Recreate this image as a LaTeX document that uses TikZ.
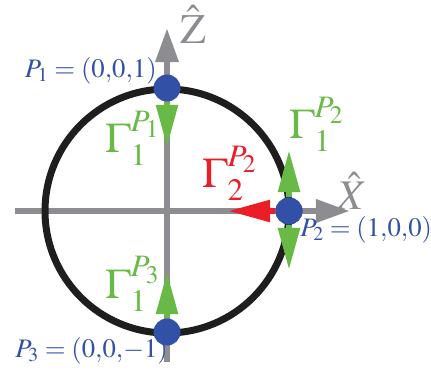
\documentclass[tikz,border=0pt]{standalone}
\usepackage{mathptmx}
\usetikzlibrary{arrows.meta}

\definecolor{axisgray}{RGB}{140,140,145}
\definecolor{ptblue}{RGB}{50,80,165}
\definecolor{gengreen}{RGB}{105,185,70}
\definecolor{genred}{RGB}{235,30,40}
\definecolor{ringblack}{RGB}{30,30,30}

\begin{document}
\begin{tikzpicture}[x=0.025cm,y=-0.025cm,line join=round]
\tikzset{
    axis/.style={draw=axisgray, line width=0.16cm, -{Triangle[length=0.85cm,width=0.55cm]}},
    ring/.style={draw=ringblack, line width=0.175cm},
    dot/.style={circle, fill=ptblue, minimum size=0.675cm, inner sep=0pt},
    gen/.style={line width=0.15cm, -{Triangle[length=1.05cm,width=0.52cm]}},
    ptlabel/.style={text=ptblue, inner sep=0pt, font=\fontsize{19}{21}\selectfont},
    genlabel/.style={inner sep=0pt, font=\fontsize{30}{34}\selectfont},
    axlabel/.style={text=axisgray, inner sep=0pt, font=\fontsize{30}{34}\selectfont},
}
\useasboundingbox (0,0) rectangle (431,369);
% axes
\coordinate (c) at (167,211);
\coordinate (xl) at (15,211);
\coordinate (xr) at (350,211);
\coordinate (zb) at (167,362);
\coordinate (zt) at (167,28);
\draw[axis] (xl) -- (xr);
\draw[axis] (zb) -- (zt);
\node[axlabel, anchor=base west] (zlab) at (180,43) {$\hat{\mathrm{Z}}$};
\node[axlabel, anchor=base west] (xlab) at (337,209) {$\hat{X}$};
% unit circle
\draw[ring] (c) circle (122);
% points
\node[dot] (p1) at (167,88) {};
\node[dot] (p2) at (289,211) {};
\node[dot] (p3) at (167,332) {};
\node[ptlabel, anchor=base east] (p1lab) at (157,77) {$P_1 = (0{,}0{,}1)$};
\node[ptlabel, anchor=base west] (p2lab) at (300,236) {$P_2 = (1{,}0{,}0)$};
\node[ptlabel, anchor=base west] (p3lab) at (15,357) {$P_3 = (0{,}0{,}{-1})$};
% generators
\coordinate (g1) at (167,147);
\coordinate (g2u) at (289,150);
\coordinate (g2d) at (289,270);
\coordinate (g3) at (167,272);
\coordinate (r2) at (228,211);
\draw[gen, draw=gengreen, fill=gengreen] (p1) -- (g1);
\draw[gen, draw=gengreen, fill=gengreen] (p2) -- (g2u);
\draw[gen, draw=gengreen, fill=gengreen] (p2) -- (g2d);
\draw[gen, draw=gengreen, fill=gengreen] (p3) -- (g3);
\draw[gen, draw=genred, fill=genred] (p2) -- (r2);
\node[dot] at (p2) {};
\node[genlabel, text=gengreen, anchor=base west] (l1) at (105,152) {$\Gamma^{P_1}_1$};
\node[genlabel, text=gengreen, anchor=base west] (l2) at (289,138) {$\Gamma^{P_2}_1$};
\node[genlabel, text=genred, anchor=base west] (l3) at (202,187) {$\Gamma^{P_2}_2$};
\node[genlabel, text=gengreen, anchor=base west] (l4) at (105,298) {$\Gamma^{P_3}_1$};
\end{tikzpicture}
\end{document}
